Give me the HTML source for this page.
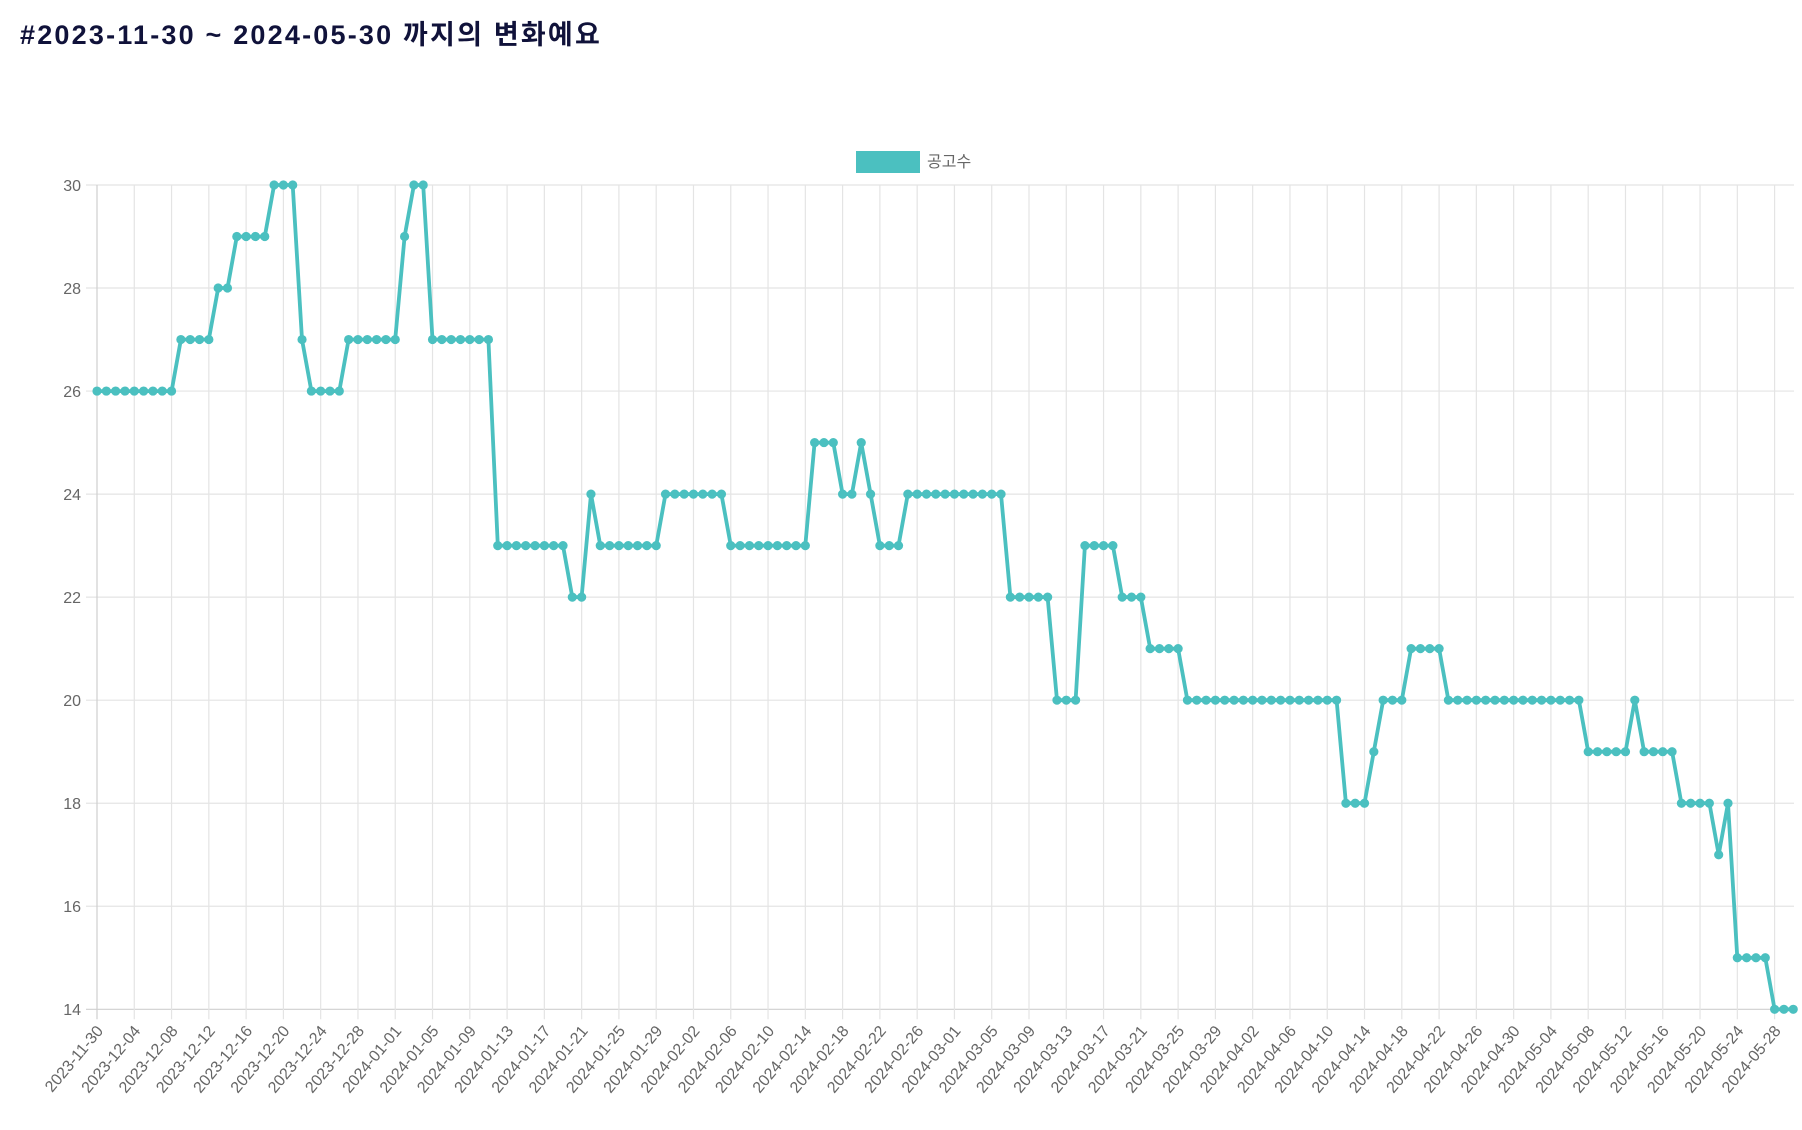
<!DOCTYPE html>
<html><head><meta charset="utf-8"><style>
html,body{margin:0;padding:0;background:#fff;}
body{width:1802px;height:1130px;overflow:hidden;position:relative;}
h1{position:absolute;left:20px;top:13px;margin:0;font:bold 27px "Liberation Sans","Noto Sans CJK KR",sans-serif;color:#10123a;letter-spacing:2.2px;white-space:nowrap;}
svg{position:absolute;left:0;top:0;}
text{font-family:"Liberation Sans","Noto Sans CJK KR",sans-serif;fill:#666;font-size:16px;}
</style></head><body>
<h1>#2023-11-30 ~ 2024-05-30 까지의 변화예요</h1>
<svg width="1802" height="1130" id="s">
<g id="grid" stroke="#e4e4e4" stroke-width="1.2"></g>
<rect x="856" y="151" width="64" height="22" fill="#4bc0c0"/>
<text x="927" y="167" font-size="16">공고수</text>
<g text-anchor="end">
<text x="81" y="191">30</text>
<text x="81" y="294">28</text>
<text x="81" y="397">26</text>
<text x="81" y="500">24</text>
<text x="81" y="603">22</text>
<text x="81" y="706">20</text>
<text x="81" y="809">18</text>
<text x="81" y="912">16</text>
<text x="81" y="1015">14</text>
</g>
<g id="xl" text-anchor="end" style="font-size:16.5px">
<text>2023-11-30</text><text>2023-12-04</text><text>2023-12-08</text><text>2023-12-12</text><text>2023-12-16</text><text>2023-12-20</text><text>2023-12-24</text><text>2023-12-28</text><text>2024-01-01</text><text>2024-01-05</text><text>2024-01-09</text><text>2024-01-13</text><text>2024-01-17</text><text>2024-01-21</text><text>2024-01-25</text><text>2024-01-29</text><text>2024-02-02</text><text>2024-02-06</text><text>2024-02-10</text><text>2024-02-14</text><text>2024-02-18</text><text>2024-02-22</text><text>2024-02-26</text><text>2024-03-01</text><text>2024-03-05</text><text>2024-03-09</text><text>2024-03-13</text><text>2024-03-17</text><text>2024-03-21</text><text>2024-03-25</text><text>2024-03-29</text><text>2024-04-02</text><text>2024-04-06</text><text>2024-04-10</text><text>2024-04-14</text><text>2024-04-18</text><text>2024-04-22</text><text>2024-04-26</text><text>2024-04-30</text><text>2024-05-04</text><text>2024-05-08</text><text>2024-05-12</text><text>2024-05-16</text><text>2024-05-20</text><text>2024-05-24</text><text>2024-05-28</text>
</g>
<polyline id="ln" fill="none" stroke="#4bc0c0" stroke-width="3.8" stroke-linejoin="round"/>
<g id="pts" fill="#4bc0c0"></g>
</svg>
<script>
var NS="http://www.w3.org/2000/svg";
var X0=97,DX=9.32,Y14=1009.3,DY=51.52;
function X(i){return X0+i*DX;} function Y(v){return Y14-(v-14)*DY;}
var g=document.getElementById('grid');
function line(x1,y1,x2,y2,c){var l=document.createElementNS(NS,'line');l.setAttribute('x1',x1);l.setAttribute('y1',y1);l.setAttribute('x2',x2);l.setAttribute('y2',y2);if(c)l.setAttribute('stroke',c);g.appendChild(l);}
for(var v=14;v<=30;v+=2){line(86,Y(v),1794,Y(v),v==14?'#cfcfcf':null);}
var labs=document.querySelectorAll('#xl text');
for(var k=0;k<46;k++){var x=X(4*k);line(x,Y(30),x,Y(14)+10,k==0?'#cfcfcf':null);
labs[k].setAttribute('transform','translate('+(x+7)+','+(Y(14)+22)+') rotate(-50)');}
var runs=[[26,9],[27,4],[28,2],[29,4],[30,3],[27,1],[26,4],[27,6],[29,1],[30,2],[27,7],[23,8],[22,2],[24,1],[23,7],[24,7],[23,9],[25,3],[24,2],[25,1],[24,1],[23,3],[24,11],[22,5],[20,3],[23,4],[22,3],[21,4],[20,17],[18,3],[19,1],[20,3],[21,4],[20,15],[19,5],[20,1],[19,4],[18,4],[17,1],[18,1],[15,4],[14,3]];
var d=[];runs.forEach(function(r){for(var j=0;j<r[1];j++)d.push(r[0]);});
var p=[],pg=document.getElementById('pts');
d.forEach(function(v,i){p.push(X(i).toFixed(1)+','+Y(v).toFixed(1));var c=document.createElementNS(NS,'circle');c.setAttribute('cx',X(i));c.setAttribute('cy',Y(v));c.setAttribute('r',4.6);pg.appendChild(c);});
document.getElementById('ln').setAttribute('points',p.join(' '));
</script>
</body></html>
